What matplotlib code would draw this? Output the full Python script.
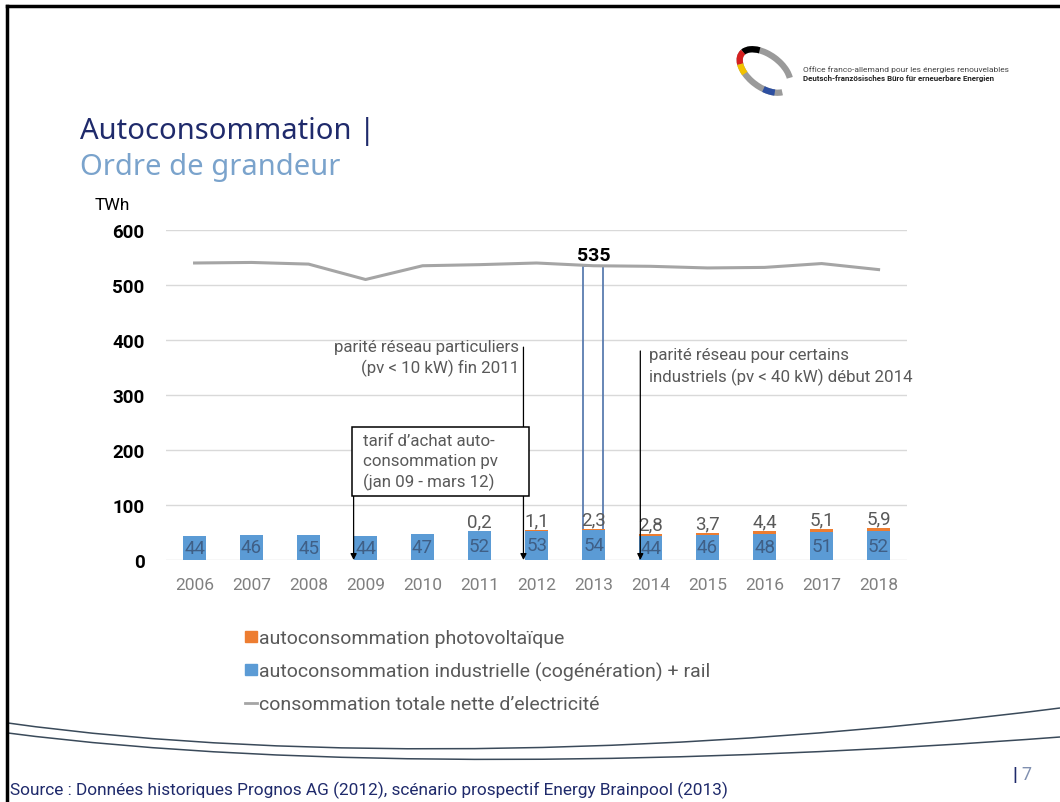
import numpy as np
import matplotlib
matplotlib.use("Agg")
import matplotlib.pyplot as plt
from matplotlib import font_manager
from matplotlib.patches import Rectangle, Patch, Arc, PathPatch
from matplotlib.lines import Line2D
from matplotlib.path import Path

# === DATA ===
years = ["2006", "2007", "2008", "2009", "2010", "2011", "2012",
         "2013", "2014", "2015", "2016", "2017", "2018"]
industrie = [44, 46, 45, 44, 47, 52, 53, 54, 44, 46, 48, 51, 52]
pv = [0, 0, 0, 0, 0, 0.2, 1.1, 2.3, 2.8, 3.7, 4.4, 5.1, 5.9]
conso_totale = [540, 541, 538, 510, 535, 537, 540, 535, 534, 531, 532, 539, 528]
yticks = [0, 100, 200, 300, 400, 500, 600]

legend_labels = ["autoconsommation photovoltaïque",
                 "autoconsommation industrielle (cogénération) + rail",
                 "consommation totale nette d\u2019electricité"]

# === FONTS ===
names = {f.name for f in font_manager.fontManager.ttflist}
NARROW = dict(family="Roboto" if "Roboto" in names else "DejaVu Sans")
TITLE = dict(family="Noto Sans" if "Noto Sans" in names else "DejaVu Sans")

W, H = 1060, 803
BLUE = "#5b9bd5"
ORANGE = "#ed7d31"
GREY_LINE = "#a5a5a5"
TXT = "#595959"
NAVY = "#1f2a6b"


def px(x, y):
    # pixel position -> figure fraction
    return x / W, 1 - y / H


fig = plt.figure(figsize=(W / 100, H / 100), dpi=100)
fig.patch.set_facecolor("white")

ax = fig.add_axes([165.5 / W, 1 - 561 / H, 741 / W, 330 / H])
x = np.arange(len(years))

# highlight frame around 2013
ax.add_patch(Rectangle((6.81, 0), 0.35, conso_totale[7], fill=False,
                       edgecolor="#5a7db0", lw=1.3, zorder=1))

ax.bar(x, industrie, width=0.39, color=BLUE, zorder=2)
ax.bar(x, pv, width=0.39, bottom=industrie, color=ORANGE, zorder=2)
ax.plot(x, conso_totale, color=GREY_LINE, lw=2.2, zorder=3)

for i in range(len(years)):
    ax.text(x[i], industrie[i] / 2, str(industrie[i]), ha="center", va="center",
            color="#3f5f86", fontsize=13.5, zorder=4, **NARROW)
    if pv[i] > 0:
        ax.text(x[i], industrie[i] + pv[i] + 1,
                f"{pv[i]:.1f}".replace(".", ","), ha="center", va="bottom",
                color=TXT, fontsize=13.5, zorder=4, **NARROW)

ax.text(7, conso_totale[7] + 4, str(conso_totale[7]), ha="center", va="bottom",
        fontsize=14, fontweight="bold", color="black", **NARROW)

ax.set_xlim(-0.51, 12.49)
ax.set_ylim(0, 600)
ax.set_yticks(yticks)
ax.set_xticks(x)
ax.set_xticklabels(years)
for s in ax.spines.values():
    s.set_visible(False)
ax.grid(axis="y", color="#d9d9d9", lw=1, zorder=0)
ax.set_axisbelow(True)
ax.tick_params(axis="both", length=0)
ax.tick_params(axis="y", pad=15, labelsize=13.5, labelcolor="black")
ax.tick_params(axis="x", pad=12, labelsize=12.5, labelcolor="#808080")
for lab in ax.get_yticklabels():
    lab.set_fontweight("bold")
    lab.set_fontfamily(NARROW["family"])
for lab in ax.get_xticklabels():
    lab.set_fontfamily(NARROW["family"])

# annotations
arrow = dict(arrowstyle="-|>", color="black", lw=0.9, mutation_scale=9,
             shrinkA=0, shrinkB=0)
ax.annotate("", xy=(5.77, 0), xytext=(5.77, 387), arrowprops=arrow, zorder=5)
ax.annotate("", xy=(7.82, 0), xytext=(7.82, 380), arrowprops=arrow, zorder=5)
ax.annotate("", xy=(2.79, 0), xytext=(2.79, 116), arrowprops=arrow, zorder=5)

ax.add_patch(Rectangle((2.76, 116), 5.86 - 2.76, 242 - 116, facecolor="white",
                       edgecolor="black", lw=1.1, zorder=6))
note_style = dict(color=TXT, fontsize=12.2, linespacing=1.38, zorder=7, **NARROW)
ax.text(2.96, 231, "tarif d\u2019achat auto-\nconsommation pv\n(jan 09 - mars 12)",
        ha="left", va="top", **note_style)
ax.text(5.70, 402, "parité réseau particuliers\n(pv < 10 kW) fin 2011",
        ha="right", va="top", **note_style)
ax.text(7.98, 387, "parité réseau pour certains\nindustriels (pv < 40 kW) début 2014",
        ha="left", va="top", **note_style)

fig.text(*px(95, 205), "TWh", ha="left", va="center", fontsize=12.5,
         color="black", **NARROW)

# legend
handles = [Patch(color=ORANGE), Patch(color=BLUE),
           Line2D([], [], color=GREY_LINE, lw=2)]
leg = fig.legend(handles, legend_labels, loc="upper left",
                 bbox_to_anchor=px(227, 613), frameon=False,
                 handlelength=0.65, handleheight=0.45, handletextpad=0.1,
                 labelspacing=0.72, prop=dict(size=14, **NARROW))
for t in leg.get_texts():
    t.set_color(TXT)

# titles
fig.text(*px(80, 131), "Autoconsommation |", ha="left", va="center",
         fontsize=21, color=NAVY, **TITLE)
fig.text(*px(80, 168), "Ordre de grandeur", ha="left", va="center",
         fontsize=21, color="#7aa3cc", **TITLE)

# logo
lax = fig.add_axes([733 / W, 1 - 105 / H, 64 / W, 66 / H])
lax.set_xlim(0, 1)
lax.set_ylim(0, 1)
lax.axis("off")
ring = dict(xy=(0.5, 0.5), width=0.9, height=0.5, angle=-35)
lax.add_patch(Arc(**ring, theta1=20, theta2=345, color="#9a9a9a", lw=4.5))
lax.add_patch(Arc(**ring, theta1=140, theta2=175, color="black", lw=4.5))
lax.add_patch(Arc(**ring, theta1=175, theta2=200, color="#d62020", lw=4.5))
lax.add_patch(Arc(**ring, theta1=200, theta2=222, color="#f2c200", lw=4.5))
lax.add_patch(Arc(**ring, theta1=300, theta2=330, color="#2d4fa0", lw=4.5))
fig.text(*px(803, 70), "Office franco-allemand pour les énergies renouvelables",
         ha="left", va="center", fontsize=6.0, color="#444444", **NARROW)
fig.text(*px(803, 78), "Deutsch-französisches Büro für erneuerbare Energien",
         ha="left", va="center", fontsize=5.7, color="#222222",
         fontweight="bold", **NARROW)

# slide frame
fig.add_artist(Line2D([px(7, 0)[0], px(7, 0)[0]], [0, px(0, 7)[1]],
                      color="black", lw=2.5, transform=fig.transFigure))
fig.add_artist(Line2D([px(7, 0)[0], 1], [px(0, 7)[1], px(0, 7)[1]],
                      color="black", lw=2.5, transform=fig.transFigure))

# bottom swooshes
for pts in ([(8, 724), (300, 765), (700, 755), (1060, 709)],
            [(8, 734), (300, 772), (700, 765), (1060, 738)]):
    verts = [px(a, b) for a, b in pts]
    path = Path(verts, [Path.MOVETO, Path.CURVE4, Path.CURVE4, Path.CURVE4])
    fig.add_artist(PathPatch(path, fill=False, edgecolor="#3a4a5a", lw=1.1,
                             transform=fig.transFigure))

fig.text(*px(10, 790), "Source : Données historiques Prognos AG (2012), "
         "scénario prospectif Energy Brainpool (2013)",
         ha="left", va="center", fontsize=12.4, color=NAVY, **NARROW)
fig.text(*px(1012, 775), "|", ha="left", va="center", fontsize=14,
         color=NAVY, fontweight="bold", **NARROW)
fig.text(*px(1021, 775), "7", ha="left", va="center", fontsize=13,
         color="#8090b0", **NARROW)

fig.savefig("out.png", dpi=100)
